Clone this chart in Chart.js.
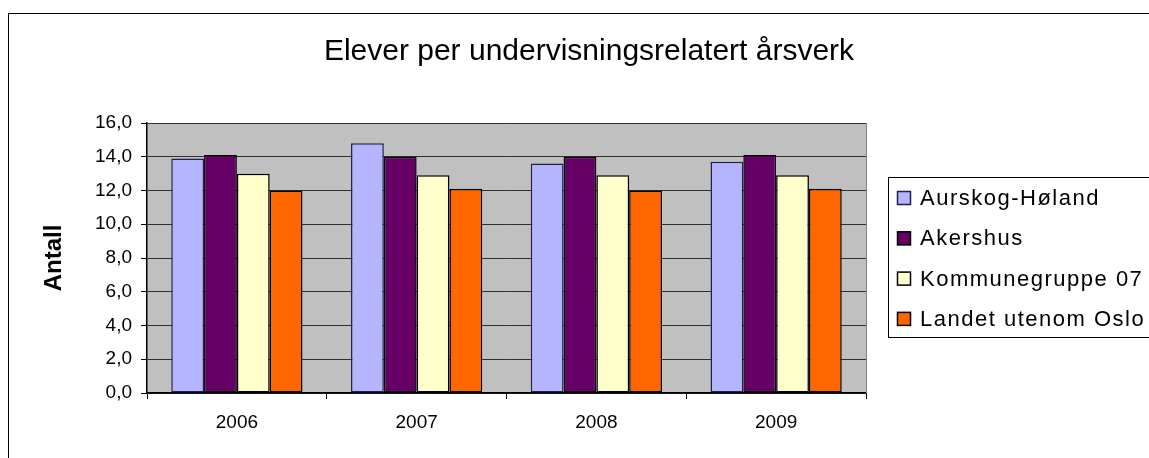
<!DOCTYPE html>
<html>
<head>
<meta charset="utf-8">
<script src="https://cdn.jsdelivr.net/npm/chart.js@4"></script>
<style>
  html, body { margin: 0; padding: 0; background: #fff; }
  #wrap { position: absolute; left: 0; top: 0; width: 1149px; height: 458px; }
</style>
</head>
<body>
<div id="wrap"><canvas id="chart" width="1149" height="458"></canvas></div>
<script>
// Data
const years = ['2006', '2007', '2008', '2009']
const aurskogHoland = [13.9, 14.8, 13.6, 13.7]
const akershus = [14.1, 14.0, 14.0, 14.1]
const kommunegruppe07 = [13.0, 12.9, 12.9, 12.9]
const landetUtenomOslo = [12.0, 12.1, 12.0, 12.1]

const FONT = "'Liberation Sans', Arial, sans-serif"

// Grey plot background, outer frame, title and the boxed legend
const frame = {
  id: 'frame',
  beforeDraw(chart) {
    const { ctx, chartArea: a } = chart
    ctx.save()
    ctx.fillStyle = '#c0c0c0'
    ctx.fillRect(a.left, a.top, a.right - a.left, a.bottom - a.top)
    ctx.restore()
  },
  afterDraw(chart) {
    const { ctx, chartArea: a } = chart
    ctx.save()
    // plot right edge
    ctx.strokeStyle = '#808080'
    ctx.lineWidth = 1
    ctx.beginPath()
    ctx.moveTo(Math.round(a.right) + 0.5, a.top)
    ctx.lineTo(Math.round(a.right) + 0.5, a.bottom)
    ctx.stroke()

    // outer border
    ctx.strokeStyle = '#000'
    ctx.strokeRect(8.5, 13.5, 1200, 500)

    // title
    ctx.fillStyle = '#000'
    ctx.font = '30px ' + FONT
    ctx.textAlign = 'center'
    ctx.textBaseline = 'alphabetic'
    ctx.fillText('Elever per undervisningsrelatert årsverk', 589, 60)

    // legend
    ctx.strokeStyle = '#000'
    ctx.strokeRect(888.5, 177.5, 300, 160)
    ctx.font = '22px ' + FONT
    ctx.letterSpacing = '1.5px'
    ctx.textAlign = 'left'
    ctx.textBaseline = 'middle'
    chart.data.datasets.forEach((ds, i) => {
      const y = 198 + i * 40.3
      ctx.fillStyle = ds.backgroundColor
      ctx.fillRect(897, y - 7, 14, 14)
      ctx.strokeStyle = ds.borderColor
      ctx.lineWidth = 1.5
      ctx.strokeRect(897.5, y - 6.5, 13, 13)
      ctx.fillStyle = '#000'
      ctx.fillText(ds.label, 920, y + 1)
    })
    ctx.restore()
  }
}

const barStyle = { borderColor: '#000', borderWidth: 1.5, borderSkipped: false }

new Chart(document.getElementById('chart'), {
  type: 'bar',
  data: {
    labels: years,
    datasets: [
      { label: 'Aurskog-Høland', data: aurskogHoland, backgroundColor: '#b4b4ff', ...barStyle, borderColor: '#20204a' },
      { label: 'Akershus', data: akershus, backgroundColor: '#660066', ...barStyle },
      { label: 'Kommunegruppe 07', data: kommunegruppe07, backgroundColor: '#ffffcc', ...barStyle },
      { label: 'Landet utenom Oslo', data: landetUtenomOslo, backgroundColor: '#ff6600', ...barStyle }
    ]
  },
  options: {
    responsive: false,
    animation: false,
    events: [],
    layout: { padding: { left: 40, top: 123, right: 283, bottom: 0 } },
    datasets: { bar: { categoryPercentage: 0.73, barPercentage: 1.0 } },
    plugins: {
      legend: { display: false },
      title: { display: false },
      tooltip: { enabled: false }
    },
    scales: {
      x: {
        afterFit: s => { s.height = 65 },
        grid: {
          offset: true,
          drawOnChartArea: false,
          drawTicks: true,
          tickLength: 6,
          tickColor: '#000'
        },
        border: { color: '#000', width: 1.5 },
        ticks: { color: '#000', font: { family: FONT, size: 19 }, padding: 12 }
      },
      y: {
        min: 0,
        max: 16,
        afterFit: s => { s.width = 107 },
        grid: { color: '#303030', lineWidth: 1, tickLength: 6, tickColor: '#000' },
        border: { color: '#000', width: 1.5 },
        ticks: {
          stepSize: 2,
          color: '#000',
          padding: 9,
          font: { family: FONT, size: 19 },
          callback: v => v.toFixed(1).replace('.', ',')
        },
        title: {
          display: true,
          text: 'Antall',
          color: '#000',
          padding: 0,
          font: { family: FONT, size: 24, weight: 'bold' }
        }
      }
    }
  },
  plugins: [frame]
})
</script>
</body>
</html>
